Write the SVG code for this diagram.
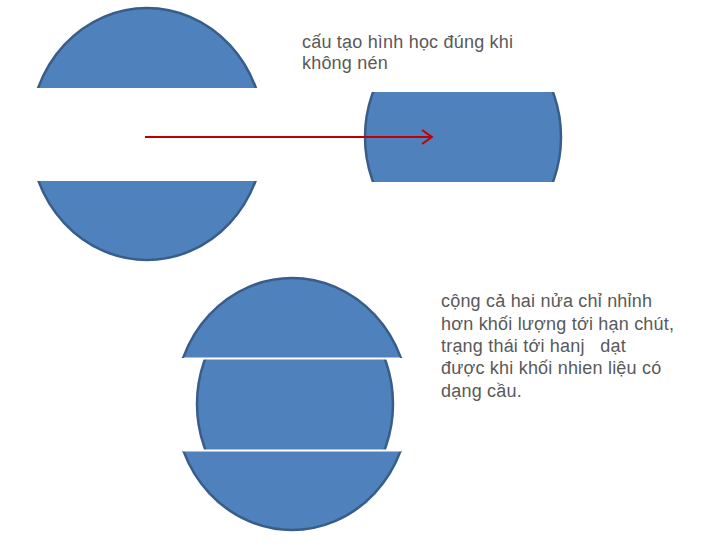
<svg xmlns="http://www.w3.org/2000/svg" width="721" height="557" viewBox="0 0 721 557">
<style>
.shape{fill:#4f81bd;stroke:#385d8a;stroke-width:2.5}
.txt{font-family:"Liberation Sans",Arial,sans-serif;font-size:18px;letter-spacing:0.2px;fill:#595959}
.cut{stroke:#ffffff;stroke-width:2}
</style>
<defs>
<clipPath id="cTop1"><rect x="0" y="0" width="300" height="88"/></clipPath>
<clipPath id="cBot1"><rect x="0" y="181" width="300" height="100"/></clipPath>
<clipPath id="cMid2"><rect x="350" y="92" width="230" height="90"/></clipPath>
<clipPath id="cTop3"><rect x="150" y="260" width="300" height="98"/></clipPath>
<clipPath id="cMid3"><rect x="180" y="359" width="240" height="91"/></clipPath>
<clipPath id="cBot3"><rect x="150" y="451" width="300" height="100"/></clipPath>
<marker id="arr" viewBox="0 0 12 16" refX="11" refY="8" markerWidth="12" markerHeight="16" markerUnits="userSpaceOnUse" orient="auto">
<path d="M1,1 L11,8 L1,15" fill="none" stroke="#c00000" stroke-width="2"/>
</marker>
</defs>
<g id="sphere-left">
<ellipse class="shape" cx="147" cy="134" rx="117" ry="126" clip-path="url(#cTop1)"/>
<ellipse class="shape" cx="147" cy="134" rx="117" ry="126" clip-path="url(#cBot1)"/>
</g>
<g id="compressed-right">
<ellipse class="shape" cx="463" cy="137" rx="98" ry="113" clip-path="url(#cMid2)"/>
</g>
<g id="combined-bottom">
<ellipse class="shape" cx="295" cy="404" rx="98" ry="113" clip-path="url(#cMid3)"/>
<ellipse class="shape" cx="292" cy="404" rx="117" ry="126" clip-path="url(#cTop3)"/>
<ellipse class="shape" cx="292" cy="404" rx="117" ry="126" clip-path="url(#cBot3)"/>
<line class="cut" x1="184" y1="358.5" x2="400" y2="358.5"/>
<line class="cut" x1="183" y1="450.5" x2="401" y2="450.5"/>
</g>
<g id="connectors">
<line x1="145" y1="137" x2="432" y2="137" stroke="#c00000" stroke-width="2" marker-end="url(#arr)"/>
</g>
<g id="label-top">
<text class="txt" x="302" y="48">cấu tạo hình học đúng khi</text>
<text class="txt" x="302" y="69">không nén</text>
</g>
<g id="label-bottom">
<text class="txt" x="441" y="307">cộng cả hai nửa chỉ nhỉnh</text>
<text class="txt" x="441" y="330">hơn khối lượng tới hạn chút,</text>
<text class="txt" x="441" y="352" xml:space="preserve">trạng thái tới hanj   dạt</text>
<text class="txt" x="441" y="374">được khi khối nhien liệu có</text>
<text class="txt" x="441" y="397">dạng cầu.</text>
</g>
</svg>
